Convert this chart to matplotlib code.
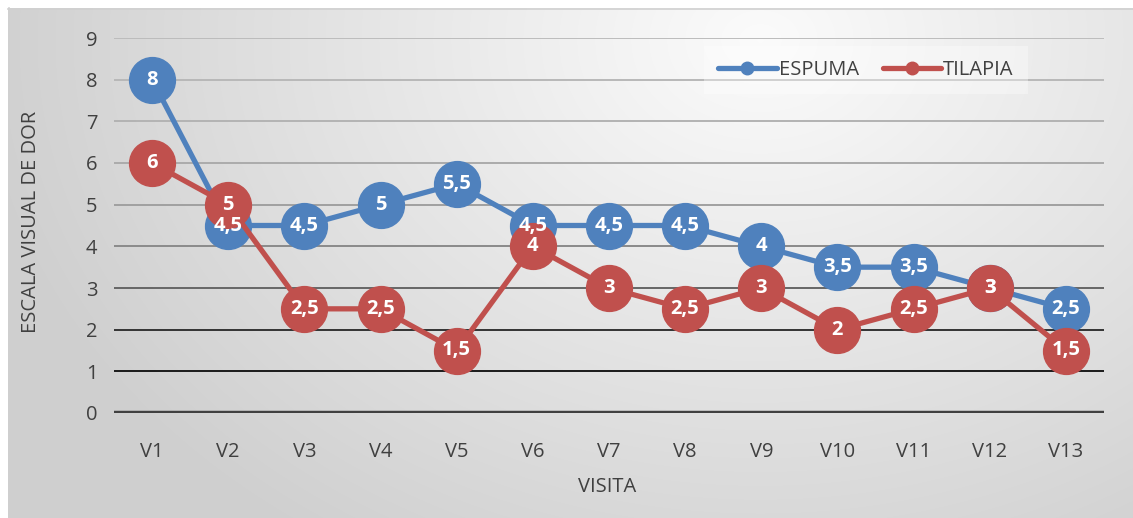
import numpy as np
import matplotlib.pyplot as plt
from matplotlib.lines import Line2D

plt.rcParams['font.family'] = ['Open Sans', 'DejaVu Sans']

visits = ['V1', 'V2', 'V3', 'V4', 'V5', 'V6', 'V7', 'V8', 'V9', 'V10', 'V11', 'V12', 'V13']
espuma = [8, 4.5, 4.5, 5, 5.5, 4.5, 4.5, 4.5, 4, 3.5, 3.5, 3, 2.5]
tilapia = [6, 5, 2.5, 2.5, 1.5, 4, 3, 2.5, 3, 2, 2.5, 3, 1.5]

BLUE = '#4f81bd'
RED = '#c0504d'
TEXT = '#404040'
FS = 14.5

W, H = 1133, 518
fig = plt.figure(figsize=(W / 100, H / 100), dpi=100)

# radial gradient backdrop
bg = fig.add_axes([0, 0, 1, 1], zorder=-10)
yy, xx = np.mgrid[0:H, 0:W]
d = np.sqrt((xx - 760) ** 2 + ((yy - 40) * 1.3) ** 2)
shade = 0.985 - 0.17 * np.clip(d / 780, 0, 1)
img = np.dstack([shade, shade, shade])
img[:8, :] = 1.0
img[:, :8] = 1.0
bg.imshow(img, extent=[0, W, H, 0], aspect='auto', interpolation='bilinear')
bg.plot([8, W], [8.5, 8.5], color='#d0d0d0', lw=1.2)
bg.plot([8.5, 8.5], [8, H], color='#d0d0d0', lw=1.2)
bg.set_xlim(0, W)
bg.set_ylim(H, 0)
bg.axis('off')

L, R, T, B = 114, 1104, 38, 413
ax = fig.add_axes([L / W, 1 - B / H, (R - L) / W, (B - T) / H])
ax.patch.set_alpha(0)
x = np.arange(len(visits))
ax.set_xlim(-0.5, len(visits) - 0.5)
ax.set_ylim(0, 9)

grid_colors = {1: '#1a1a1a', 2: '#333333', 3: '#666666', 4: '#8a8a8a',
               5: '#a0a0a0', 6: '#ababab', 7: '#b3b3b3', 8: '#b8b8b8', 9: '#bcbcbc'}
for lvl, c in grid_colors.items():
    ax.axhline(lvl, color=c, lw=1.4, zorder=1)
ax.axhline(0, color='#404040', lw=3.2, zorder=2)

for s in ax.spines.values():
    s.set_visible(False)
ax.tick_params(length=0)
ax.set_xticks(x)
ax.set_xticklabels(visits, fontsize=FS, color=TEXT)
ax.set_yticks(range(10))
ax.set_yticklabels([str(v) for v in range(10)], fontsize=FS, color=TEXT)
ax.tick_params(axis='x', pad=21)
ax.tick_params(axis='y', pad=12)
ax.set_xlabel('VISITA', fontsize=FS, color=TEXT)
ax.set_ylabel('ESCALA VISUAL DE DOR', fontsize=FS, color=TEXT)
ax.xaxis.set_label_coords((607 - L) / (R - L), -(487 - B) / (B - T), transform=ax.transAxes)
ax.xaxis.label.set_va('center')
ax.yaxis.set_label_coords(-(L - 31) / (R - L), (B - 222) / (B - T), transform=ax.transAxes)
ax.yaxis.label.set_va('center')

ms = 33
ax.plot(x, espuma, color=BLUE, lw=3.8, marker='o', ms=ms, zorder=3, solid_capstyle='round')
ax.plot(x, tilapia, color=RED, lw=3.8, marker='o', ms=ms, zorder=4, solid_capstyle='round')

def fmt(v):
    return (f'{v:g}').replace('.', ',')

for xi, v in zip(x, espuma):
    ax.text(xi, v, fmt(v), ha='center', va='center', color='white',
            fontsize=14.5, fontweight='bold', zorder=6)
for xi, v in zip(x, tilapia):
    ax.text(xi, v, fmt(v), ha='center', va='center', color='white',
            fontsize=14.5, fontweight='bold', zorder=6)

handles = [Line2D([], [], color=BLUE, lw=3.8, marker='o', ms=9, solid_capstyle='round'),
           Line2D([], [], color=RED, lw=3.8, marker='o', ms=9, solid_capstyle='round')]
leg = ax.legend(handles, ['ESPUMA', 'TILAPIA'], loc='upper left',
                bbox_to_anchor=((704 - L) / (R - L), 1 - (46 - T) / (B - T)),
                ncol=2, frameon=True, fontsize=FS, handlelength=2.9,
                handletextpad=0.1, columnspacing=1.2, borderpad=0.7,
                fancybox=False, borderaxespad=0)
leg.get_frame().set_facecolor('white')
leg.get_frame().set_alpha(0.35)
leg.get_frame().set_linewidth(0)
for t in leg.get_texts():
    t.set_color(TEXT)
leg.set_zorder(7)

fig.savefig('out.png', dpi=100)
